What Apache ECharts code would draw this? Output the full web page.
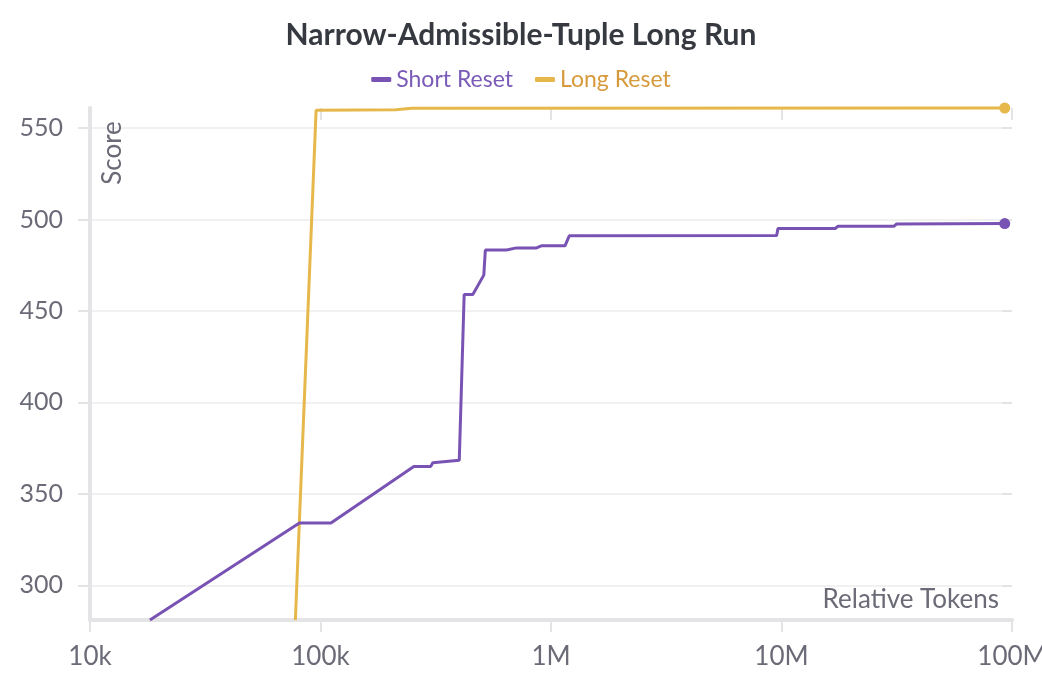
<!DOCTYPE html>
<html>
<head>
<meta charset="utf-8">
<script src="https://cdn.jsdelivr.net/npm/echarts@6/dist/echarts.min.js"></script>
<style>html,body{margin:0;padding:0;background:#fff}#c{width:1042px;height:698px}</style>
</head>
<body>
<div id="c"></div>
<script>
const titleText = 'Narrow-Admissible-Tuple Long Run';
const seriesNames = ['Short Reset', 'Long Reset'];
const shortX = [18200, 81000, 111000, 254000, 301000, 307000, 400000, 405000, 420000, 458000, 511000, 519000, 641000, 709000, 865000, 908000, 1150000, 1200000, 9530000, 9650000, 17100000, 17600000, 30800000, 31500000, 93000000];
const shortY = [281, 334, 334, 365, 365, 367, 368.3, 368.3, 459, 459, 469.6, 483.3, 483.3, 484.5, 484.5, 485.6, 485.6, 491.1, 491.3, 495.1, 495.1, 496.4, 496.4, 497.5, 497.8];
const longX = [77800, 95700, 212000, 249000, 93000000];
const longY = [281, 559.8, 560, 560.8, 561];
const yTicks = [300, 350, 400, 450, 500, 550];
const xTickLabels = {10000: '10k', 100000: '100k', 1000000: '1M', 10000000: '10M', 100000000: '100M'};

const purple = '#7953b4';
const gold = '#e6b84c';
const labelColor = '#6b6b78';
const FONT = 'Lato, "Source Sans Pro", "Open Sans", sans-serif';

function pairs(xs, ys) { return xs.map((x, i) => [x, ys[i]]); }
function lastBig(n) { return (v, p) => p.dataIndex === n - 1 ? 11 : 0; }

const grid = {left: 90, right: 30, top: 108, bottom: 78, containLabel: false, outerBoundsMode: 'none'};
const xBase = {type: 'log', logBase: 10, min: 10000, max: 100000000, gridIndex: 0};
const yBase = {type: 'value', min: 281, max: 561, gridIndex: 0};

const chart = echarts.init(document.getElementById('c'));
chart.setOption({
  backgroundColor: '#fff',
  animation: false,
  title: {
    text: titleText, left: 'center', top: 15,
    textStyle: {fontFamily: FONT, fontSize: 30, fontWeight: 'bold', color: '#363a40'}
  },
  legend: {
    top: 63, left: 'center', icon: 'roundRect', itemWidth: 20, itemHeight: 5, itemGap: 22,
    textStyle: {fontFamily: FONT, fontSize: 23},
    data: [
      {name: seriesNames[0], textStyle: {color: '#7a5bb8'}},
      {name: seriesNames[1], textStyle: {color: '#d69a3c'}}
    ]
  },
  grid: grid,
  xAxis: [
    Object.assign({}, xBase, {
      axisLine: {show: true, lineStyle: {color: '#e4e4e6', width: 4}},
      axisTick: {show: true, length: 12, lineStyle: {color: '#e4e4e6', width: 2}},
      axisLabel: {fontFamily: FONT, fontSize: 26, color: labelColor, margin: 24,
        formatter: v => xTickLabels[Math.round(v)] || ''},
      splitLine: {show: false}, minorTick: {show: false}
    }),
    Object.assign({}, xBase, {
      axisLine: {show: false},
      axisTick: {show: true, inside: true, length: 12, lineStyle: {color: '#e4e4e6', width: 2}},
      axisLabel: {show: false}, splitLine: {show: false}
    })
  ],
  yAxis: [
    Object.assign({}, yBase, {
      axisLine: {show: true, lineStyle: {color: '#e4e4e6', width: 4}},
      axisTick: {show: true, length: 12, customValues: yTicks, lineStyle: {color: '#e4e4e6', width: 2}},
      axisLabel: {fontFamily: FONT, fontSize: 25, color: labelColor, margin: 27, customValues: yTicks},
      splitLine: {show: true, lineStyle: {color: '#ececec', width: 1.5}}
    }),
    Object.assign({}, yBase, {
      axisLine: {show: false},
      axisTick: {show: true, inside: true, length: 10, customValues: yTicks, lineStyle: {color: '#e4e4e6', width: 2}},
      axisLabel: {show: false}, splitLine: {show: false}
    })
  ],
  graphic: [
    {type: 'text', x: 113, y: 153, rotation: Math.PI / 2, z: 10,
      style: {text: 'Score', fontFamily: FONT, fontSize: 26, fill: labelColor, align: 'center', verticalAlign: 'middle'}},
    {type: 'text', x: 999, y: 600, z: 10,
      style: {text: 'Relative Tokens', fontFamily: FONT, fontSize: 26, fill: labelColor, align: 'right', verticalAlign: 'middle'}}
  ],
  series: [
    {name: seriesNames[0], type: 'line', xAxisIndex: 0, yAxisIndex: 0,
      data: pairs(shortX, shortY), color: purple,
      lineStyle: {width: 3, color: purple}, showSymbol: true, showAllSymbol: true,
      symbol: 'circle', symbolSize: lastBig(shortX.length), itemStyle: {color: purple},
      clip: true, z: 3},
    {name: seriesNames[1], type: 'line', xAxisIndex: 0, yAxisIndex: 0,
      data: pairs(longX, longY), color: gold,
      lineStyle: {width: 3, color: gold}, showSymbol: true, showAllSymbol: true,
      symbol: 'circle', symbolSize: lastBig(longX.length), itemStyle: {color: gold},
      clip: false, z: 2}
  ]
});
</script>
</body>
</html>
